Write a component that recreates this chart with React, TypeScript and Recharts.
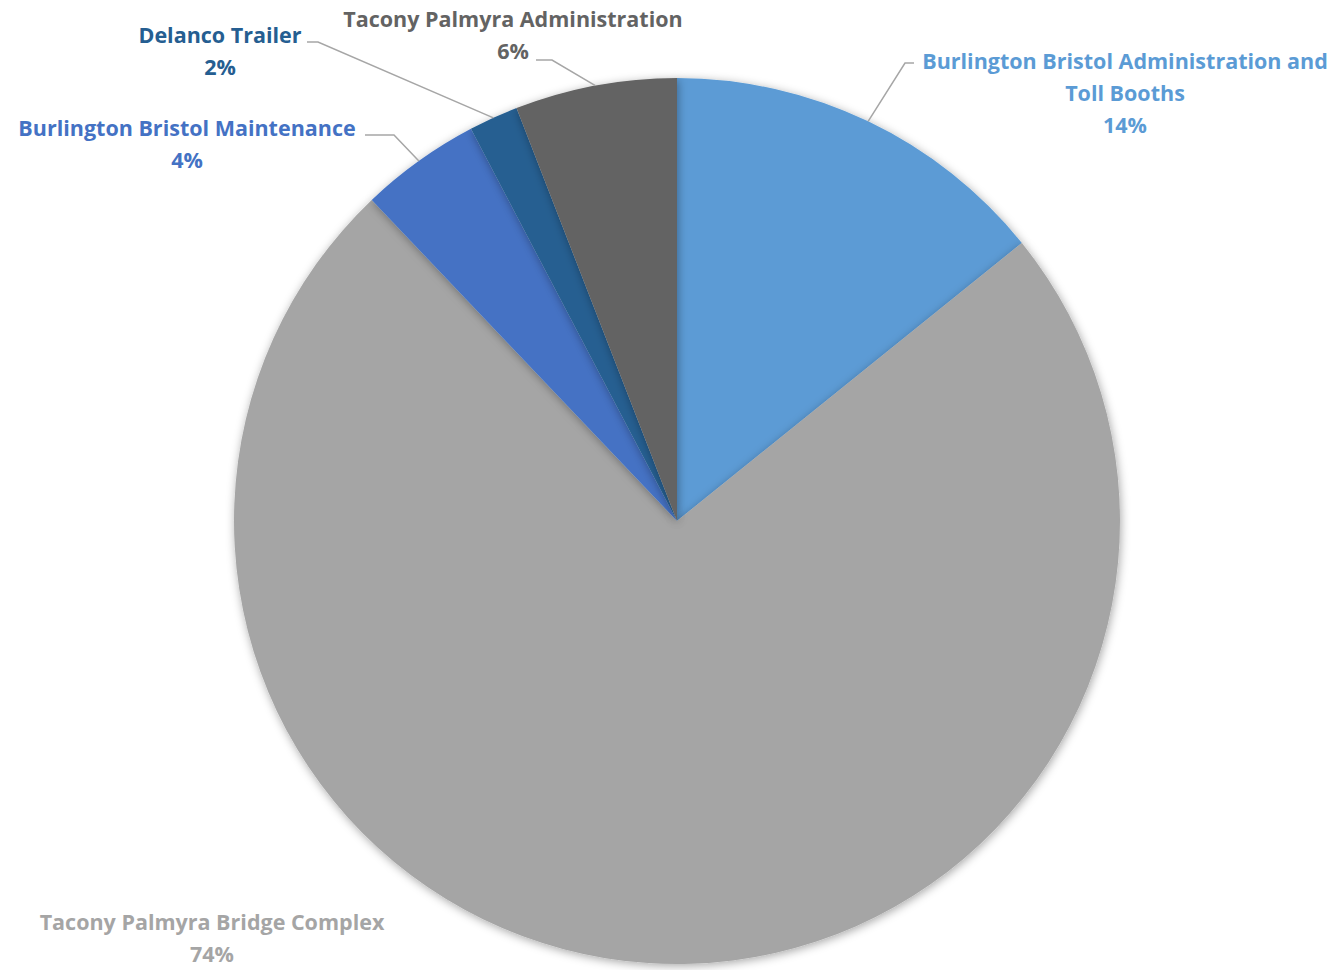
import { PieChart, Pie, Cell } from 'recharts';

// slice order: clockwise from 12 o'clock
const categories = [
  'Burlington Bristol Administration and Toll Booths',
  'Tacony Palmyra Bridge Complex',
  'Burlington Bristol Maintenance',
  'Delanco Trailer',
  'Tacony Palmyra Administration',
];
const shares = [14.2, 73.7, 4.4, 1.8, 5.9];
const percentLabels = ['14%', '74%', '4%', '2%', '6%'];
const nameLines = [
  ['Burlington Bristol Administration and', 'Toll Booths'],
  ['Tacony Palmyra Bridge Complex'],
  ['Burlington Bristol Maintenance'],
  ['Delanco Trailer'],
  ['Tacony Palmyra Administration'],
];
const colors = ['#5B9BD5', '#A5A5A5', '#4472C4', '#255E91', '#636363'];

const data = categories.map((name, i) => ({ name, value: shares[i] }));

// where each label block sits and how its leader line bends (null = no leader)
const labelLayout = [
  { x: 1125, y: 61, elbow: [[905, 63], [914, 63]] },
  { x: 212, y: 922, elbow: null },
  { x: 187, y: 128, elbow: [[394, 135], [365, 135]] },
  { x: 220, y: 35, elbow: [[318, 42], [307, 42]] },
  { x: 513, y: 19, elbow: [[552, 60], [536, 60]] },
];

const RADIAN = Math.PI / 180;
const FONT = '"Open Sans", Lato, sans-serif';

const renderLabel = (props: any) => {
  const { cx, cy, midAngle, outerRadius, index } = props;
  const layout = labelLayout[index];
  const ex = cx + outerRadius * Math.cos(-midAngle * RADIAN);
  const ey = cy + outerRadius * Math.sin(-midAngle * RADIAN);
  const lines = [...nameLines[index], percentLabels[index]];
  return (
    <g key={`lbl-${index}`}>
      {layout.elbow && (
        <polyline
          points={[[ex, ey], ...layout.elbow].map(p => p.join(',')).join(' ')}
          fill="none"
          stroke="#A6A6A6"
          strokeWidth={1.5}
        />
      )}
      <text
        x={layout.x}
        y={layout.y}
        textAnchor="middle"
        fill={colors[index]}
        fontFamily={FONT}
        fontWeight={700}
        fontSize={21.5}
      >
        {lines.map((line, i) => (
          <tspan key={i} x={layout.x} dy={i === 0 ? '0.35em' : 32}>
            {line}
          </tspan>
        ))}
      </text>
    </g>
  );
};

export default function App() {
  return (
    <div style={{ position: 'absolute', left: 0, top: 0, background: '#fff' }}>
      <PieChart width={1338} height={970} margin={{ top: 0, right: 0, bottom: 0, left: 0 }}>
        <defs>
          <filter id="pieShadow" x="-10%" y="-10%" width="120%" height="120%">
            <feDropShadow dx="1" dy="2" stdDeviation="5" floodColor="#000" floodOpacity="0.35" />
          </filter>
        </defs>
        <Pie
          data={data}
          dataKey="value"
          nameKey="name"
          cx={677}
          cy={521}
          outerRadius={443}
          startAngle={90}
          endAngle={-270}
          stroke="none"
          label={renderLabel}
          labelLine={false}
          isAnimationActive={false}
          style={{ filter: 'url(#pieShadow)' }}
        >
          {data.map((d, i) => (
            <Cell key={d.name} fill={colors[i]} />
          ))}
        </Pie>
      </PieChart>
    </div>
  );
}
